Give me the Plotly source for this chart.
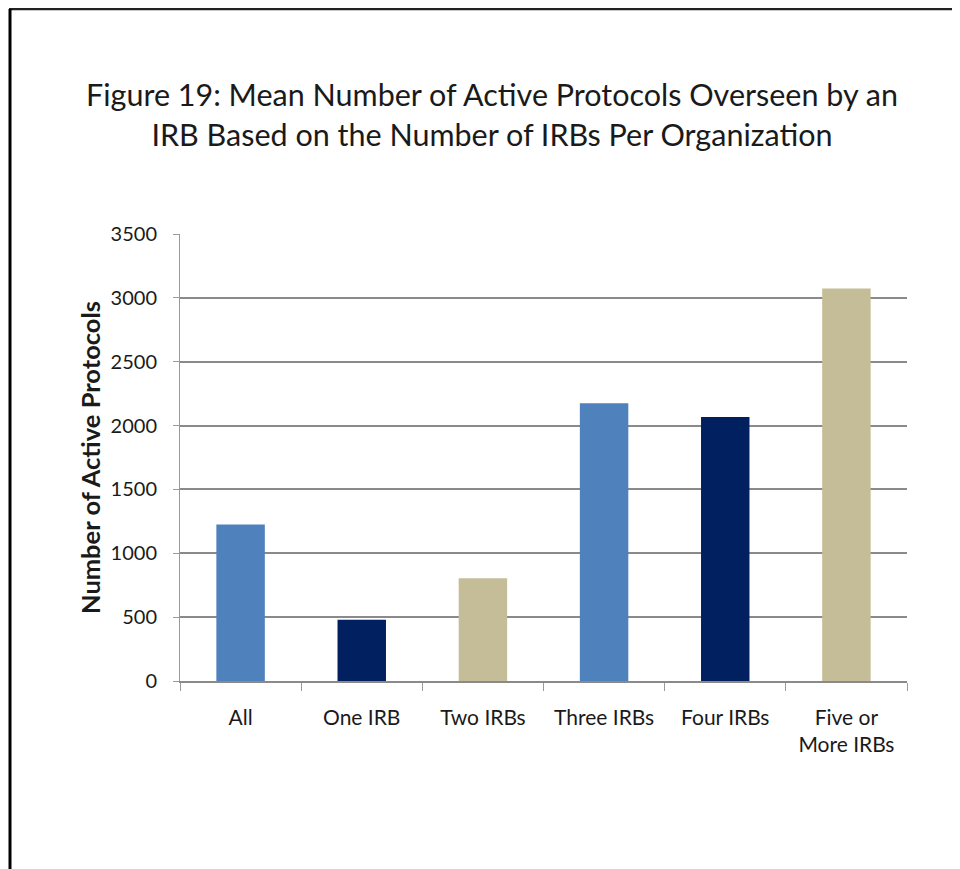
import plotly.graph_objects as go

categories = ["All", "One IRB", "Two IRBs", "Three IRBs", "Four IRBs", "Five or<br>More IRBs"]
values = [1225, 480, 805, 2175, 2068, 3074]
colors = ["#4F81BD", "#002060", "#C4BD97", "#4F81BD", "#002060", "#C4BD97"]
y_ticks = [0, 500, 1000, 1500, 2000, 2500, 3000, 3500]

FONT = "Lato"

fig = go.Figure(
    go.Bar(
        x=categories,
        y=values,
        marker=dict(color=colors, line=dict(width=0)),
        width=0.4,
    )
)

# the page adds an 8px body margin, so figure coords = screen coords - 8
OFF = 8
L, R, T, B = 180 - OFF, 907 - OFF, 234 - OFF, 681 - OFF
W, H = 960 - OFF, 869 - OFF

fig.update_layout(
    width=W,
    height=H,
    margin=dict(l=L, r=W - R, t=T, b=H - B),
    paper_bgcolor="white",
    plot_bgcolor="white",
    showlegend=False,
    font=dict(family=FONT, color="#1a1a1a"),
    title=dict(
        text="Figure 19: Mean Number of Active Protocols Overseen by an<br>IRB Based on the Number of IRBs Per Organization",
        x=(492 - OFF) / W,
        xanchor="center",
        y=1 - (106 - OFF) / H,
        yanchor="middle",
        yref="container",
        xref="container",
        font=dict(family=FONT, size=30.5, color="#1a1a1a"),
    ),
)

fig.update_yaxes(
    range=[0, 3500],
    tickvals=y_ticks,
    ticktext=[str(v) for v in y_ticks],
    showgrid=True,
    gridcolor="#8a8a8a",
    gridwidth=1.6,
    zeroline=False,
    showline=True,
    linecolor="#9a9a9a",
    linewidth=1,
    ticks="outside",
    ticklen=6,
    tickcolor="#9a9a9a",
    ticklabelstandoff=12,
    tickfont=dict(family=FONT, size=20, color="#1a1a1a"),
    title=dict(
        text="<b>Number of Active Protocols</b>",
        font=dict(family=FONT, size=25.5, color="#1a1a1a"),
        standoff=2,
    ),
)

fig.update_xaxes(
    showline=True,
    linecolor="#8a8a8a",
    linewidth=1.6,
    ticks="outside",
    ticklen=8,
    tickcolor="#9a9a9a",
    tickson="boundaries",
    ticklabelstandoff=17,
    tickfont=dict(family=FONT, size=21, color="#1a1a1a"),
    tickangle=0,
)

# outer border (top and left), as in the reference image
def px_x(p):
    return (p - OFF - L) / (R - L)

def px_y(p):
    return (B - (p - OFF)) / (B - T)

fig.add_shape(type="line", xref="paper", yref="paper",
              x0=px_x(9), x1=px_x(970), y0=px_y(9), y1=px_y(9),
              line=dict(color="#222222", width=2.5))
fig.add_shape(type="line", xref="paper", yref="paper",
              x0=px_x(10), x1=px_x(10), y0=px_y(9), y1=px_y(880),
              line=dict(color="#000000", width=3))

fig.write_html("out.html")
